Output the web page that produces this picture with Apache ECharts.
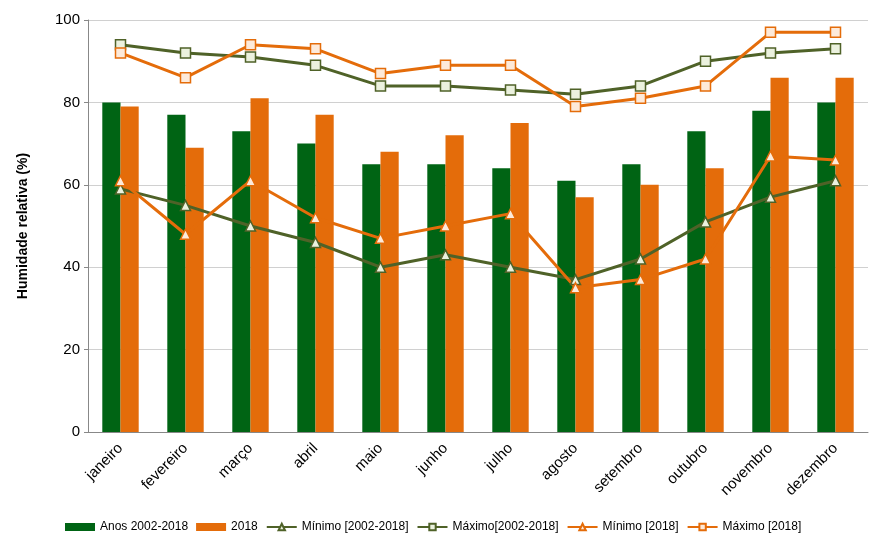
<!DOCTYPE html>
<html><head><meta charset="utf-8">
<script src="https://cdn.jsdelivr.net/npm/echarts@6/dist/echarts.min.js"></script>
<style>body{margin:0}#main{width:872px;height:542px}</style>
</head><body><div id="main"></div>
<script>
let months = ["janeiro","fevereiro","março","abril","maio","junho","julho","agosto","setembro","outubro","novembro","dezembro"];
let anos = [80,77,73,70,65,65,64,61,65,73,78,80];
let ano2018 = [79,69,81,77,68,72,75,57,60,64,86,86];
let minAnos = [59,55,50,46,40,43,40,37,42,51,57,61];
let maxAnos = [94,92,91,89,84,84,83,82,84,90,92,93];
let min2018 = [61,48,61,52,47,50,53,35,37,42,67,66];
let max2018 = [92,86,94,93,87,89,89,79,81,84,97,97];

let green = "#006414", orange = "#E46C0A", olive = "#4F6228";
function line(name, data, color, symbol, fill) {
  return {
    name: name, type: "line", data: data, z: 3,
    symbol: symbol, symbolSize: 10, showAllSymbol: true,
    lineStyle: { color: color, width: 3 },
    itemStyle: { color: fill, borderColor: color, borderWidth: 1.5 }
  };
}
let myChart = echarts.init(document.getElementById("main"));
myChart.setOption({
  animation: false,
  textStyle: { fontFamily: "Liberation Sans, Arial, sans-serif" },
  grid: { left: 88, right: 4, top: 20, bottom: 110 },
  legend: {
    bottom: 4, left: 60, itemGap: 8, itemWidth: 30, itemHeight: 8,
    textStyle: { fontSize: 12, color: "#000" },
    data: [
      { name: "Anos 2002-2018", icon: "rect" },
      { name: "2018", icon: "rect" },
      "Mínimo [2002-2018]", "Máximo[2002-2018]", "Mínimo [2018]", "Máximo [2018]"
    ]
  },
  xAxis: {
    type: "category", data: months,
    axisLine: { lineStyle: { color: "#888" } },
    axisTick: { show: false },
    axisLabel: { rotate: 45, fontSize: 15, color: "#000", margin: 14 }
  },
  yAxis: {
    type: "value", min: 0, max: 100, interval: 20,
    name: "Humidade relativa (%)", nameLocation: "middle", nameGap: 58,
    nameTextStyle: { fontWeight: "bold", fontSize: 14, color: "#000" },
    axisLine: { show: true, lineStyle: { color: "#888" } },
    axisTick: { show: true, length: 4 },
    axisLabel: { fontSize: 15, color: "#000" },
    splitLine: { lineStyle: { color: "#d0d0d0" } }
  },
  series: [
    { name: "Anos 2002-2018", type: "bar", data: anos, z: 2, barGap: "0%", barCategoryGap: "44%", itemStyle: { color: green } },
    { name: "2018", type: "bar", data: ano2018, z: 2, itemStyle: { color: orange } },
    line("Mínimo [2002-2018]", minAnos, olive, "triangle", "#EBF1DE"),
    line("Máximo[2002-2018]", maxAnos, olive, "rect", "#EBF1DE"),
    line("Mínimo [2018]", min2018, orange, "triangle", "#FDEADA"),
    line("Máximo [2018]", max2018, orange, "rect", "#FDEADA")
  ]
});
</script></body></html>
